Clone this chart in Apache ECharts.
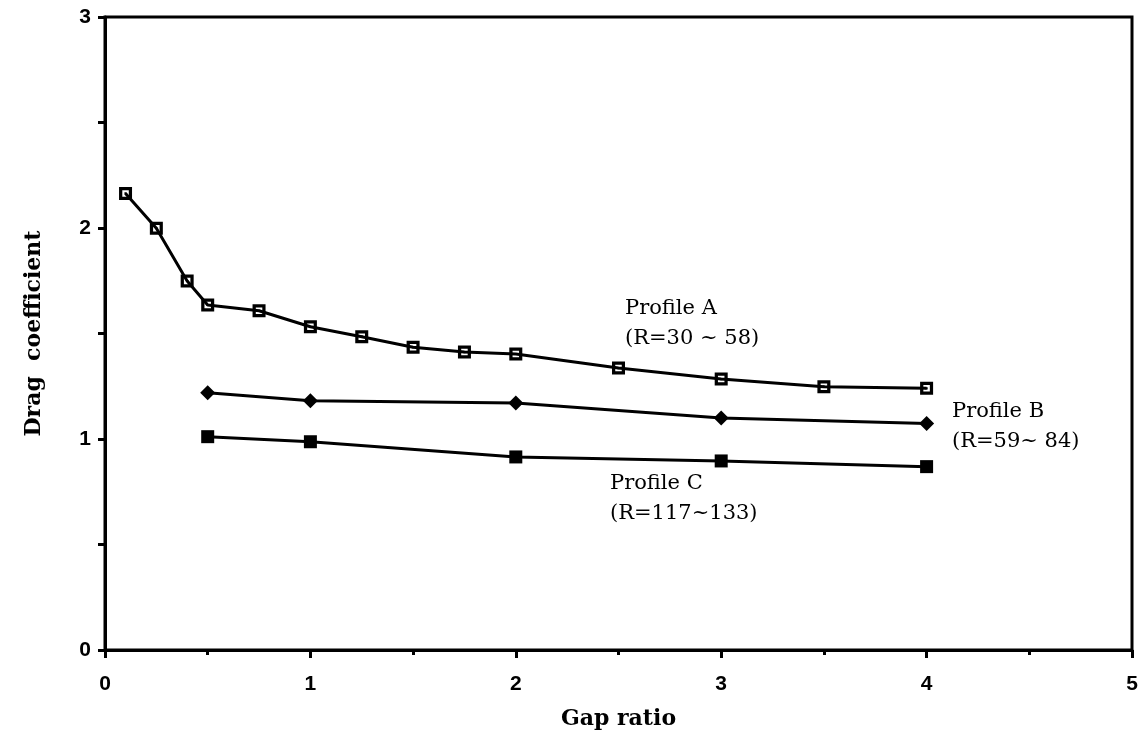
<!DOCTYPE html>
<html>
<head>
<meta charset="utf-8">
<script src="https://cdn.jsdelivr.net/npm/echarts@6/dist/echarts.min.js"></script>
<style>
  html, body { margin: 0; padding: 0; background: #fff; }
  #chart { width: 1146px; height: 742px; }
</style>
</head>
<body>
<div id="chart"></div>
<script>
// gap ratio values for each profile
const gapA = [0.1, 0.25, 0.4, 0.5, 0.75, 1, 1.25, 1.5, 1.75, 2, 2.5, 3, 3.5, 4];
const dragA = [2.164, 1.999, 1.749, 1.635, 1.608, 1.532, 1.485, 1.435, 1.412, 1.403, 1.336, 1.284, 1.248, 1.240];
const gapB = [0.5, 1, 2, 3, 4];
const dragB = [1.219, 1.181, 1.171, 1.100, 1.074];
const gapC = [0.5, 1, 2, 3, 4];
const dragC = [1.011, 0.987, 0.915, 0.896, 0.869];
const labelA = ['Profile A', '(R=30 ~ 58)'];
const labelB = ['Profile B', '(R=59~ 84)'];
const labelC = ['Profile C', '(R=117~133)'];

function pairs(xs, ys) {
  return xs.map((x, i) => [x, ys[i]]);
}

// open square with a small dot in the middle
const openSquare = 'path://M0,0H12V12H0Z M3,3V9H9V3Z M5,5H7V7H5Z';

let chart = echarts.init(document.getElementById('chart'));
const tickFont = { fontFamily: 'Liberation Sans', fontWeight: 'bold', fontSize: 21, color: '#000' };
const nameFont = { fontFamily: 'DejaVu Serif', fontWeight: 'bold', fontSize: 22, color: '#000' };
const noteFont = { fontFamily: 'DejaVu Serif', fontSize: 21, fill: '#000' };

let option = {
  animation: false,
  grid: {
    left: 105, right: 14, top: 17, bottom: 92,
    show: true, borderColor: '#000', borderWidth: 3
  },
  xAxis: {
    type: 'value', min: 0, max: 5, interval: 1,
    name: 'Gap ratio', nameLocation: 'middle', nameGap: 58,
    nameTextStyle: nameFont,
    axisLine: { lineStyle: { color: '#000', width: 3 } },
    axisTick: { show: true, length: 8, lineStyle: { color: '#000', width: 3 } },
    minorTick: { show: true, splitNumber: 2, length: 5, lineStyle: { color: '#000', width: 3 } },
    axisLabel: Object.assign({ margin: 24 }, tickFont),
    splitLine: { show: false }
  },
  yAxis: {
    type: 'value', min: 0, max: 3, interval: 1,
    name: 'Drag  coefficient', nameLocation: 'middle', nameGap: 60,
    nameTextStyle: nameFont,
    axisLine: { show: true, lineStyle: { color: '#000', width: 3 } },
    axisTick: { show: true, length: 7, lineStyle: { color: '#000', width: 3 } },
    minorTick: { show: true, splitNumber: 2, length: 7, lineStyle: { color: '#000', width: 3 } },
    axisLabel: Object.assign({ margin: 14 }, tickFont),
    splitLine: { show: false }
  },
  series: [
    {
      name: 'Profile A', type: 'line', data: pairs(gapA, dragA),
      symbol: openSquare, symbolSize: 13,
      lineStyle: { color: '#000', width: 3 },
      itemStyle: { color: '#000' }
    },
    {
      name: 'Profile B', type: 'line', data: pairs(gapB, dragB),
      symbol: 'diamond', symbolSize: 15,
      lineStyle: { color: '#000', width: 3 },
      itemStyle: { color: '#000' }
    },
    {
      name: 'Profile C', type: 'line', data: pairs(gapC, dragC),
      symbol: 'rect', symbolSize: 13,
      lineStyle: { color: '#000', width: 3 },
      itemStyle: { color: '#000' }
    }
  ],
  graphic: [
    { type: 'text', left: 625, top: 294, style: Object.assign({ text: labelA.join('\n'), lineHeight: 30 }, noteFont) },
    { type: 'text', left: 952, top: 397, style: Object.assign({ text: labelB.join('\n'), lineHeight: 30 }, noteFont) },
    { type: 'text', left: 610, top: 469, style: Object.assign({ text: labelC.join('\n'), lineHeight: 30 }, noteFont) }
  ]
};
chart.setOption(option);
</script>
</body>
</html>
